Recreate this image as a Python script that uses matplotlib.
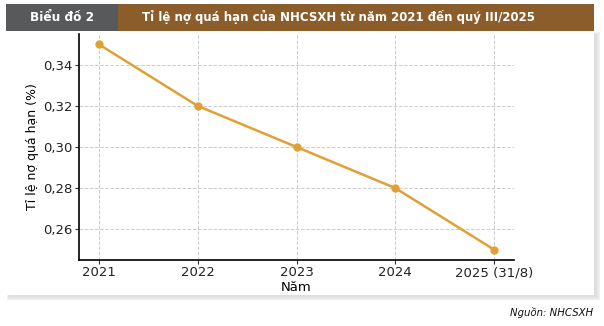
import matplotlib.pyplot as plt
from matplotlib.patches import Rectangle

# Data
years = ['2021', '2022', '2023', '2024', '2025 (31/8)']
ratio = [0.35, 0.32, 0.30, 0.28, 0.25]
yticks = [0.26, 0.28, 0.30, 0.32, 0.34]

fig = plt.figure(figsize=(6.04, 3.26), dpi=100)
W, H = 604, 326

def box(x0, y0, x1, y1, **kw):
    # pixel coords, top-left origin
    r = Rectangle((x0 / W, 1 - y1 / H), (x1 - x0) / W, (y1 - y0) / H,
                  transform=fig.transFigure, **kw)
    fig.patches.append(r)

# soft shadow + white panel
for i, c in enumerate(['#f2f2f2', '#e8e8e8', '#dedede']):
    box(7 + i, 32 + i, 600 - i * 1.5, 300 - i * 1.5, facecolor=c, edgecolor='none', zorder=0)
box(6, 31, 594, 295, facecolor='white', edgecolor='none', zorder=1)

# header
box(6, 4, 118, 31, facecolor='#58595b', edgecolor='none', zorder=2)
box(118, 4, 594, 31, facecolor='#8a5d2a', edgecolor='none', zorder=2)

hdr = ['DejaVu Sans Condensed', 'DejaVu Sans']
fig.text(62.5 / W, 1 - 17.5 / H, 'Biểu đồ 2', color='white', fontsize=8.7,
         fontweight='bold', ha='center', va='center', family=hdr, zorder=3)
fig.text(339 / W, 1 - 17.5 / H, 'Tỉ lệ nợ quá hạn của NHCSXH từ năm 2021 đến quý III/2025',
         color='white', fontsize=8.5, fontweight='bold', ha='center', va='center',
         family=hdr, zorder=3)

# chart
ax = fig.add_axes([79 / W, 1 - 260 / H, (514 - 79) / W, (260 - 34) / H])
ax.set_facecolor('none')
ax.set_zorder(5)
x = range(len(years))
ax.plot(x, ratio, color='#e0a035', linewidth=1.8, marker='o', markersize=5)
ax.set_xticks(list(x))
ax.set_xticklabels(years)
ax.set_yticks(yticks)
ax.set_yticklabels([f'{v:.2f}'.replace('.', ',') for v in yticks])
ax.grid(True, linestyle='--', color='#cccccc', linewidth=0.7)
for s in ['top', 'right']:
    ax.spines[s].set_visible(False)
ax.spines['left'].set_linewidth(1.2)
ax.spines['bottom'].set_linewidth(1.2)
ax.tick_params(labelsize=9.5, color='#333333', labelcolor='#222222', length=3, pad=1.5)
ax.set_xlabel('Năm', fontsize=9.5, labelpad=1)
ax.set_ylabel('Tỉ lệ nợ quá hạn (%)', fontsize=9, labelpad=3)

fig.text(593 / W, 1 - 313 / H, 'Nguồn: NHCSXH', fontsize=7.3, style='italic',
         ha='right', va='center', family=hdr, color='#111111')

fig.savefig('out.png', dpi=100)
